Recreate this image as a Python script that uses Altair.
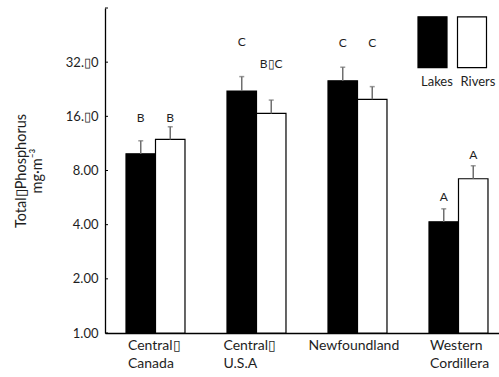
import json
import altair as alt
import pandas as pd

# Total phosphorus (mg m-3) by region, lakes vs rivers, with upper error bars
regions = ["Central Canada", "Central U.S.A", "Newfoundland", "Western Cordillera"]
region_lines = [["Central\u25af", "Canada"], ["Central\u25af", "U.S.A"], ["Newfoundland"], ["Western", "Cordillera"]]
series = ["Lakes", "Rivers"]

lakes_tp = [9.9, 22.1, 25.2, 4.15]
lakes_upper = [11.7, 26.6, 30.0, 4.9]
rivers_tp = [11.9, 16.6, 19.9, 7.2]
rivers_upper = [14.0, 19.7, 23.4, 8.5]

# significance groups and the level they are written at
lakes_groups = ["B", "C", "C", "A"]
rivers_groups = ["B", "B\u25afC", "C", "A"]
lakes_group_y = [15.6, 41.6, 40.7, 5.7]
rivers_group_y = [15.6, 31.1, 40.7, 9.75]

tick_values = [1, 2, 4, 8, 16, 32, 64]
tick_labels = ["1.00", "2.00", "4.00", "8.00", "16.\u25af0", "32.\u25af0", ""]

rows = []
for i, r in enumerate(regions):
    rows.append(dict(region=r, series="Lakes", tp=lakes_tp[i], upper=lakes_upper[i],
                     group=lakes_groups[i], group_y=lakes_group_y[i]))
    rows.append(dict(region=r, series="Rivers", tp=rivers_tp[i], upper=rivers_upper[i],
                     group=rivers_groups[i], group_y=rivers_group_y[i]))
df = pd.DataFrame(rows)
ticks_df = pd.DataFrame({"v": tick_values})

FONT = "Lato"
INK = "#1e1e1e"

label_map = json.dumps(dict(zip(regions, region_lines)), ensure_ascii=False)
label_shift = {"Central Canada": -27.5, "Central U.S.A": -33, "Newfoundland": -49, "Western Cordillera": -28.5}
x_axis = alt.Axis(
    title=None, ticks=False, domainColor="black", domainWidth=1.3,
    labelExpr=f"{label_map}[datum.value]", labelAngle=0, labelAlign="left",
    labelOffset={"condition": [{"test": f"datum.value === '{k}'", "value": v} for k, v in label_shift.items()],
                 "value": -30},
    labelPadding=5, labelFontSize=14, labelLineHeight=18, labelFont=FONT, labelColor=INK,
)
x_enc = alt.X("region:N", sort=regions, axis=x_axis,
              scale=alt.Scale(paddingInner=0.416, paddingOuter=0.1585, align=0.656))
xo_enc = alt.XOffset("series:N", sort=series, scale=alt.Scale(paddingInner=0, paddingOuter=0))

y_label_map = json.dumps({str(v): l for v, l in zip(tick_values, tick_labels)}, ensure_ascii=False)
y_scale = alt.Scale(type="log", base=2, domain=[1, 64], nice=False)
y_axis = alt.Axis(
    title=["Total\u25afPhosphorus", "mg\u00b7m\u207b\u00b3"], values=tick_values, ticks=False,
    grid=False, domainColor="black", domainWidth=1.3,
    labelExpr=f"{y_label_map}[datum.value]", labelPadding=7, labelFontSize=13,
    labelFont=FONT, labelColor=INK,
    titleFont=FONT, titleFontSize=14.5, titleFontWeight="normal", titleColor=INK,
    titlePadding=21, titleLineHeight=16,
)


def y_enc(field):
    return alt.Y(f"{field}:Q", scale=y_scale, axis=y_axis)


base = alt.Chart(df).encode(x=x_enc, xOffset=xo_enc)

# tall swatch drawn above the entry's midline so the label sits underneath it
legend = alt.Legend(
    title=None, orient="none", legendX=312, legendY=52.5, direction="horizontal",
    symbolType="M-1,-4.1L1,-4.1L1,-0.6L-1,-0.6Z", symbolSize=841,
    symbolStrokeColor="black", symbolStrokeWidth=1.2, symbolOpacity=1,
    labelAlign="left", labelBaseline="top", labelOffset=alt.ExprRef(expr="-27"),
    labelFontSize=13, labelFont=FONT, labelColor=INK, columnPadding=1.5, padding=0,
)

bars = base.mark_bar(stroke="black", strokeWidth=1.2).encode(
    y=y_enc("tp"), y2=alt.datum(1),
    fill=alt.Fill("series:N", sort=series,
                  scale=alt.Scale(domain=series, range=["black", "white"]), legend=legend),
)

err = base.mark_rule(color="#6f6f6f", strokeWidth=1.5).encode(y=y_enc("tp"), y2="upper:Q")
caps = base.mark_tick(color="#6f6f6f", size=5, thickness=1.5, orient="horizontal").encode(y=y_enc("upper"))
letters = base.mark_text(baseline="middle", fontSize=12, font=FONT, color=INK).encode(
    y=y_enc("group_y"), text="group:N")

inner_ticks = alt.Chart(ticks_df).mark_rule(color="black", strokeWidth=1).encode(
    y=y_enc("v"), x=alt.value(0), x2=alt.value(3))

chart = alt.layer(bars, err, caps, letters, inner_ticks).properties(
    width=394, height=325,
    autosize=alt.AutoSizeParams(type="none"),
    padding={"left": 105, "top": 8, "right": 0, "bottom": 44},
    background="white",
).configure_view(stroke=None)

chart.save("out.html", embed_options={"renderer": "svg", "actions": False})
